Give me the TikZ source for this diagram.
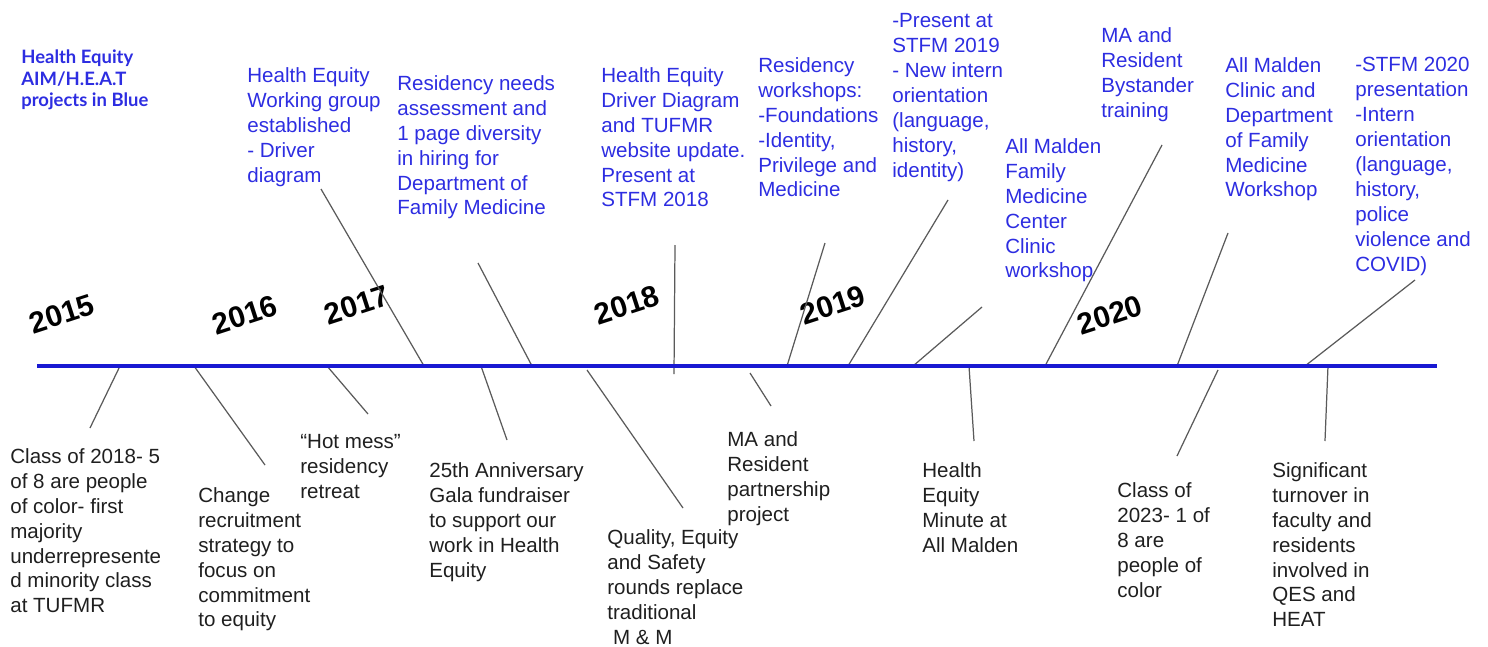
\documentclass[tikz,border=0pt]{standalone}
\usepackage{fontspec}
\setmainfont{Liberation Sans}
\newfontfamily\latofont{Lato}
\usepackage{tikz}
\definecolor{heatblue}{RGB}{45,45,225}
\definecolor{axisblue}{RGB}{25,25,210}
\definecolor{leadgray}{RGB}{90,90,90}
\tikzset{
    heat/.style={anchor=north west, inner sep=0pt, align=left, text=heatblue, font=\fontsize{11.7}{14.2}\selectfont},
    event/.style={anchor=north west, inner sep=0pt, align=left, text=black!88, font=\fontsize{11.7}{14.2}\selectfont},
    year/.style={rotate=18, inner sep=0pt, font=\bfseries\fontsize{17}{20}\selectfont},
    leader/.style={draw=leadgray, line width=0.7pt},
    timeline/.style={draw=axisblue, line width=2.8pt}
}

\begin{document}
\begin{tikzpicture}[x=0.02cm, y=-0.02cm]
    \useasboundingbox (0,0) rectangle (1488,646);

    % Legend
    \node[heat, font=\latofont\bfseries\fontsize{10.5}{12.5}\selectfont] (legend) at (21,49) {Health Equity\\AIM/H.E.A.T\\projects in Blue};

    % Years
    \foreach \yr/\x/\y in {2015/62/314, 2016/245/315, 2017/357/305, 2018/627/305, 2019/833/305, 2020/1110/315} {
        \node[year] (y\yr) at (\x,\y) {\yr};
    }

    % HEAT projects (above the line)
    \node[heat] (workgroup) at (247,67) {Health Equity\\Working group\\established\\- Driver\\diagram};
    \node[heat] (needs) at (397,75) {Residency needs\\assessment and\\1 page diversity\\in hiring for\\Department of\\Family Medicine};
    \node[heat] (driver) at (601,67) {Health Equity\\Driver Diagram\\and TUFMR\\website update.\\Present at\\STFM 2018};
    \node[heat] (workshops) at (758,57) {Residency\\workshops:\\-Foundations\\-Identity,\\Privilege and\\Medicine};
    \node[heat] (stfm19) at (892,13) {-Present at\\STFM 2019\\- New intern\\orientation\\(language,\\history,\\identity)};
    \node[heat] (center) at (1005,138) {All Malden\\Family\\Medicine\\Center\\Clinic\\workshop};
    \node[heat] (bystander) at (1101,27) {MA and\\Resident\\Bystander\\training};
    \node[heat] (dept) at (1225,57) {All Malden\\Clinic and\\Department\\of Family\\Medicine\\Workshop};
    \node[heat] (stfm20) at (1355,57) {-STFM 2020\\presentation\\-Intern\\orientation\\(language,\\history,\\police\\violence and\\COVID)};

    % Events (below the line)
    \node[event] (class18) at (10,448) {Class of 2018- 5\\of 8 are people\\of color- first\\majority\\underrepresente\\d minority class\\at TUFMR};
    \node[event] (recruit) at (198,487) {Change\\recruitment\\strategy to\\focus on\\commitment\\to equity};
    \node[event] (retreat) at (300,434) {“Hot mess”\\residency\\retreat};
    \node[event] (gala) at (429,462) {25th Anniversary\\Gala fundraiser\\to support our\\work in Health\\Equity};
    \node[event] (rounds) at (607,529) {Quality, Equity\\and Safety\\rounds replace\\traditional\\\ M \& M};
    \node[event] (partner) at (727,431) {MA and\\Resident\\partnership\\project};
    \node[event] (minute) at (922,462) {Health\\Equity\\Minute at\\All Malden};
    \node[event] (class23) at (1117,482) {Class of\\2023- 1 of\\8 are\\people of\\color};
    \node[event] (turnover) at (1272,462) {Significant\\turnover in\\faculty and\\residents\\involved in\\QES and\\HEAT};

    % Leaders
    \foreach \i/\xa/\ya/\xb/\yb in {
        1/321/189/424/366, 2/478/263/532/366, 3/675/245/674/374,
        4/825/243/787/366, 5/948/200/848/366, 6/982/307/913/366,
        7/1162/145/1045/366, 8/1228/233/1177/366, 9/1415/280/1305/366,
        10/120/366/90/428, 11/194/366/265/465, 12/327/366/368/414,
        13/481/366/507/440, 14/587/370/683/508, 15/750/373/771/406,
        16/969/366/974/441, 17/1218/370/1177/456, 18/1328/366/1325/441} {
        \coordinate (p\i) at (\xa,\ya);
        \coordinate (q\i) at (\xb,\yb);
        \draw[leader] (p\i) -- (q\i);
    }

    % Timeline
    \coordinate (tl-start) at (37,366);
    \coordinate (tl-end) at (1437,366);
    \draw[timeline] (tl-start) -- (tl-end);
\end{tikzpicture}
\end{document}
